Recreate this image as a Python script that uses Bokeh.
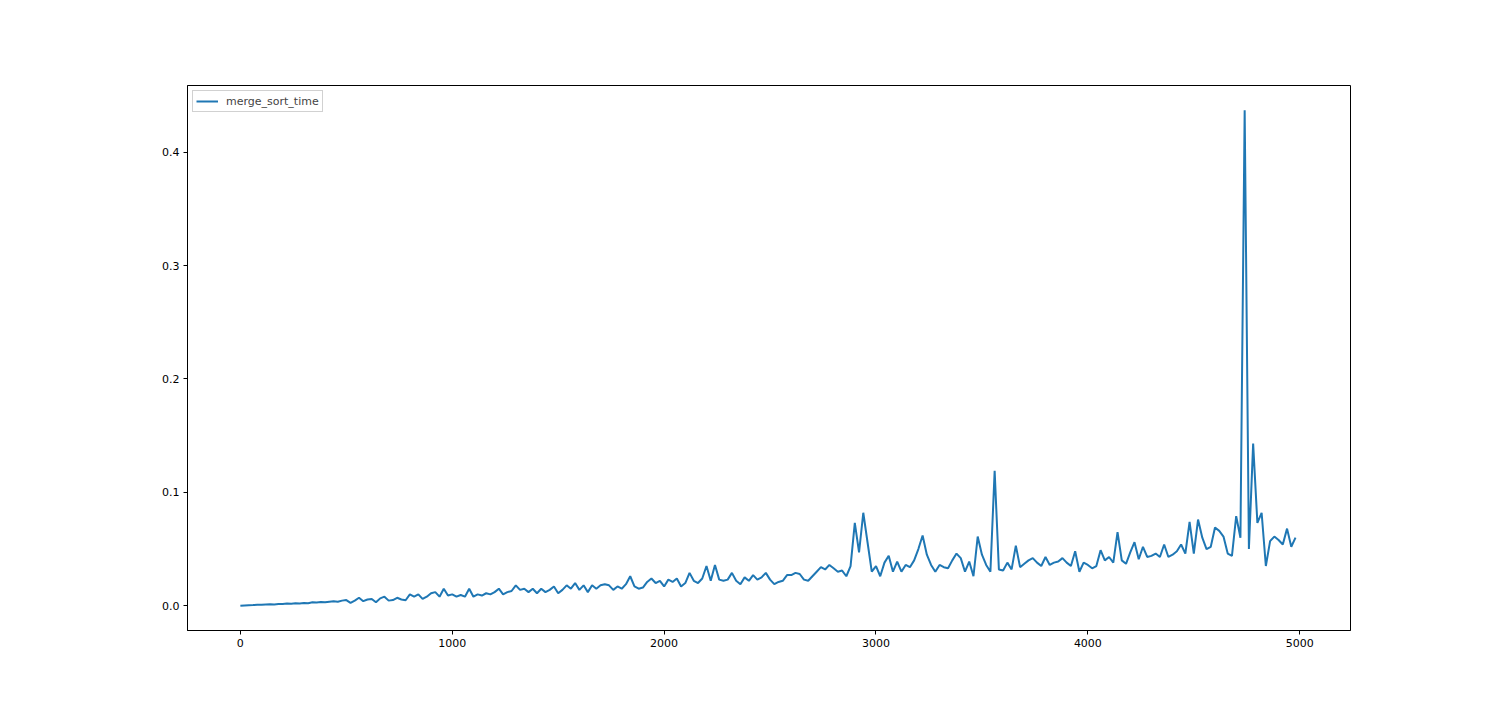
from bokeh.plotting import figure
from bokeh.models import Range1d, FixedTicker, PrintfTickFormatter, Legend, LegendItem
from bokeh.embed import file_html
from bokeh.resources import INLINE

# sample sizes (step 20)
n_values = list(range(0, 5000, 20))

merge_sort_time = [
    # 0-180
    0.000, 0.0003, 0.0005, 0.0006, 0.0008, 0.0008, 0.001, 0.0012, 0.0011, 0.0015,
    # 200-380
    0.0016, 0.002, 0.0018, 0.0022, 0.002, 0.0025, 0.0022, 0.003, 0.0028, 0.0032,
    # 400-580
    0.003, 0.0036, 0.004, 0.0035, 0.0045, 0.005, 0.0025, 0.0045, 0.007, 0.004,
    # 600-780
    0.0055, 0.006, 0.003, 0.0065, 0.008, 0.0045, 0.005, 0.007, 0.0055, 0.0048,
    # 800-980
    0.010, 0.008, 0.010, 0.006, 0.008, 0.011, 0.012, 0.008, 0.015, 0.009,
    # 1000-1180
    0.010, 0.008, 0.0095, 0.008, 0.015, 0.008, 0.010, 0.009, 0.011, 0.010,
    # 1200-1380
    0.012, 0.015, 0.010, 0.012, 0.013, 0.018, 0.014, 0.015, 0.012, 0.015,
    # 1400-1580
    0.011, 0.015, 0.012, 0.014, 0.017, 0.011, 0.014, 0.018, 0.015, 0.020,
    # 1600-1780
    0.014, 0.018, 0.012, 0.018, 0.015, 0.018, 0.019, 0.018, 0.014, 0.017,
    # 1800-1980
    0.015, 0.019, 0.026, 0.017, 0.015, 0.016, 0.021, 0.024, 0.020, 0.022,
    # 2000-2180
    0.017, 0.023, 0.021, 0.024, 0.017, 0.020, 0.029, 0.022, 0.020, 0.024,
    # 2200-2380
    0.035, 0.022, 0.036, 0.023, 0.022, 0.023, 0.029, 0.022, 0.019, 0.025,
    # 2400-2580
    0.022, 0.027, 0.023, 0.025, 0.029, 0.023, 0.019, 0.021, 0.022, 0.027,
    # 2600-2780
    0.027, 0.029, 0.028, 0.023, 0.022, 0.026, 0.030, 0.034, 0.032, 0.036,
    # 2800-2980
    0.033, 0.030, 0.031, 0.026, 0.035, 0.073, 0.047, 0.082, 0.056, 0.030,
    # 3000-3180
    0.035, 0.026, 0.038, 0.044, 0.030, 0.039, 0.030, 0.036, 0.034, 0.040,
    # 3200-3380
    0.050, 0.062, 0.045, 0.036, 0.030, 0.036, 0.034, 0.033, 0.040, 0.046,
    # 3400-3580
    0.042, 0.030, 0.039, 0.026, 0.061, 0.045, 0.036, 0.030, 0.119, 0.032,
    # 3600-3780
    0.031, 0.038, 0.032, 0.053, 0.034, 0.037, 0.040, 0.042, 0.038, 0.035,
    # 3800-3980
    0.043, 0.036, 0.038, 0.039, 0.042, 0.038, 0.035, 0.048, 0.030, 0.038,
    # 4000-4180
    0.036, 0.033, 0.035, 0.049, 0.040, 0.043, 0.038, 0.065, 0.040, 0.037,
    # 4200-4380
    0.047, 0.056, 0.041, 0.052, 0.043, 0.044, 0.046, 0.043, 0.054, 0.043,
    # 4400-4580
    0.045, 0.048, 0.054, 0.046, 0.074, 0.046, 0.076, 0.060, 0.050, 0.052,
    # 4600-4780
    0.069, 0.066, 0.061, 0.046, 0.044, 0.079, 0.060, 0.437, 0.050, 0.143,
    # 4800-4980
    0.073, 0.082, 0.035, 0.057, 0.061, 0.058, 0.054, 0.068, 0.052, 0.060,
]

x_ticks = [0, 1000, 2000, 3000, 4000, 5000]
y_ticks = [0.0, 0.1, 0.2, 0.3, 0.4]

W, H = 1484, 692
p = figure(width=W, height=H, output_backend="svg", toolbar_location=None,
           x_range=Range1d(-249.5, 5239.5), y_range=Range1d(-0.02185, 0.45885),
           min_border_left=187, min_border_top=85,
           min_border_right=W - 1350, min_border_bottom=H - 630)
p.background_fill_color = "white"
p.border_fill_color = "white"
p.outline_line_color = "black"
p.outline_line_width = 1
p.xgrid.visible = False
p.ygrid.visible = False

r = p.line(n_values, merge_sort_time, line_color="#1f77b4", line_width=2)

for ax in (p.xaxis[0], p.yaxis[0]):
    ax.axis_line_color = "black"
    ax.major_tick_line_color = "black"
    ax.major_tick_out = 4
    ax.major_tick_in = 0
    ax.minor_tick_line_color = None
    ax.major_label_text_font = "DejaVu Sans"
    ax.major_label_text_font_size = "11px"
    ax.major_label_text_color = "black"
    ax.major_label_standoff = 4

p.xaxis[0].ticker = FixedTicker(ticks=x_ticks)
p.yaxis[0].ticker = FixedTicker(ticks=y_ticks)
p.yaxis[0].formatter = PrintfTickFormatter(format="%.1f")

legend = Legend(items=[LegendItem(label="merge_sort_time", renderers=[r])],
                location="top_left")
legend.margin = 5
legend.padding = 3
legend.spacing = 0
legend.glyph_width = 22
legend.glyph_height = 14
legend.label_text_font = "DejaVu Sans"
legend.label_text_font_size = "11px"
legend.label_standoff = 8
legend.label_height = 14
legend.border_line_color = "#cccccc"
legend.border_line_alpha = 0.9
legend.background_fill_alpha = 0.8
p.add_layout(legend)

open("out.html", "w").write(file_html(p, INLINE))
